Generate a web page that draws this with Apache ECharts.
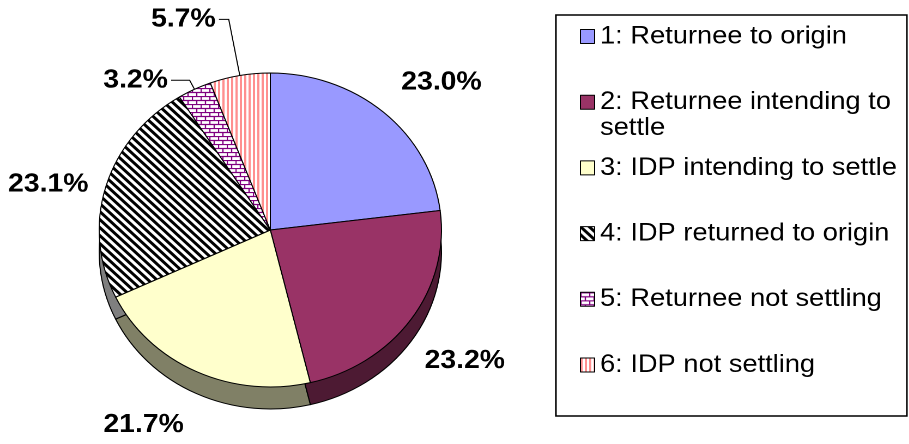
<!DOCTYPE html>
<html lang="en">
<head>
<meta charset="UTF-8">
<title>Returnee / IDP pie</title>
<script src="https://cdn.jsdelivr.net/npm/echarts@6/dist/echarts.min.js"></script>
<style>
    html, body { margin: 0; padding: 0; background: #fff; overflow: hidden; }
    /* the original picture is a bit wider than tall, so stretch the drawing */
    #main { width: 834px; height: 444px; transform: scaleX(1.09); transform-origin: 0 0; }
</style>
</head>
<body>
<div id="main"></div>
<script>
    var categories = [
        '1: Returnee to origin',
        '2: Returnee intending to settle',
        '3: IDP intending to settle',
        '4: IDP returned to origin',
        '5: Returnee not settling',
        '6: IDP not settling'
    ];
    var shares = [23.0, 23.2, 21.7, 23.1, 3.2, 5.7];

    var FONT = 'Arial, "Liberation Sans", sans-serif';

    // small pattern tiles, drawn at 2x and scaled back down
    function tile(w, h, draw) {
        var c = document.createElement('canvas');
        c.width = w * 2;
        c.height = h * 2;
        var ctx = c.getContext('2d');
        ctx.scale(2, 2);
        ctx.fillStyle = '#fff';
        ctx.fillRect(0, 0, w, h);
        draw(ctx);
        return { image: c, repeat: 'repeat', scaleX: 0.5, scaleY: 0.5 };
    }

    var diagonal = tile(8, 8, function (ctx) {
        ctx.strokeStyle = '#000';
        ctx.lineWidth = 2.8;
        for (var k = -8; k <= 8; k += 8) {
            ctx.beginPath();
            ctx.moveTo(k - 1, -1);
            ctx.lineTo(k + 9, 9);
            ctx.stroke();
        }
    });
    var brick = tile(8, 8, function (ctx) {
        ctx.strokeStyle = '#800080';
        ctx.lineWidth = 1.2;
        ctx.beginPath();
        ctx.moveTo(0, 0.5); ctx.lineTo(8, 0.5);
        ctx.moveTo(0, 4.5); ctx.lineTo(8, 4.5);
        ctx.moveTo(0.5, 0); ctx.lineTo(0.5, 4);
        ctx.moveTo(4.5, 4); ctx.lineTo(4.5, 8);
        ctx.stroke();
    });
    var vstripe = tile(4, 4, function (ctx) {
        ctx.fillStyle = '#ff8f8f';
        ctx.fillRect(0, 0, 2, 4);
    });

    var topColors = ['#9999ff', '#993366', '#ffffcc', diagonal, brick, vstripe];
    var sideColors = ['#4d4d80', '#4d1a33', '#808066', '#7f7f7f', '#400040', '#804848'];

    // long names wrap; an empty line on top keeps the first line level with the icon
    function wrap(name) {
        if (name.length <= 28) return name;
        var cut = name.lastIndexOf(' ', 26);
        return '\n' + name.slice(0, cut) + '\n' + name.slice(cut + 1);
    }

    // label nudges for the four labels without leader lines
    var nudge = [[0, -15], [-7, 30], [0, 35], [6, 4]];

    var myChart = echarts.init(document.getElementById('main'), null, { devicePixelRatio: 2 });

    var option = {
        backgroundColor: '#fff',
        animation: false,
        graphic: [{
            type: 'rect',
            shape: { x: 510, y: 15, width: 322, height: 401 },
            style: { fill: 'none', stroke: '#000', lineWidth: 1.5 },
            silent: true
        }],
        legend: categories.map(function (name, i) {
            var lift = name.length > 28 ? 39 : 13;
            return {
                data: [name],
                orient: 'vertical',
                left: 532,
                top: 36.5 + 65.7 * i - lift,
                padding: 0,
                icon: 'rect',
                itemWidth: 13,
                itemHeight: 14,
                selectedMode: false,
                itemStyle: { borderColor: '#000', borderWidth: 1 },
                formatter: wrap,
                textStyle: {
                    fontFamily: FONT,
                    fontSize: 25,
                    lineHeight: 26,
                    color: '#000'
                }
            };
        }),
        series: [{
            // top face
            type: 'pie',
            z: 3,
            center: [248, 230],
            radius: 157,
            startAngle: 90,
            clockwise: true,
            avoidLabelOverlap: false,
            emphasis: { disabled: true },
            itemStyle: { borderColor: '#000', borderWidth: 1 },
            label: {
                show: true,
                position: 'outside',
                fontFamily: FONT,
                fontSize: 26,
                fontWeight: 'bold',
                color: '#000',
                distanceToLabelLine: 3,
                formatter: function (p) { return p.value.toFixed(1) + '%'; }
            },
            labelLine: {
                show: false,
                length: 20,
                length2: 0,
                smooth: false,
                lineStyle: { color: '#000', width: 1 }
            },
            labelLayout: function (p) {
                var n = nudge[p.dataIndex];
                return n ? { dx: n[0], dy: n[1] } : {};
            },
            data: shares.map(function (v, i) {
                var item = { value: v, name: categories[i], itemStyle: { color: topColors[i] } };
                if (i === 4) item.labelLine = { show: true, length: 10, length2: 17 };
                if (i === 5) item.labelLine = { show: true, length: 57, length2: 9 };
                return item;
            })
        }, {
            // side (depth) of the 3d pie
            type: 'pie',
            z: 1,
            silent: true,
            center: [248, 252],
            radius: 157,
            startAngle: 90,
            clockwise: true,
            label: { show: false },
            labelLine: { show: false },
            itemStyle: { borderColor: '#000', borderWidth: 1 },
            data: shares.map(function (v, i) {
                return { value: v, name: 'side ' + i, itemStyle: { color: sideColors[i] } };
            })
        }]
    };
    myChart.setOption(option);
</script>
</body>
</html>
